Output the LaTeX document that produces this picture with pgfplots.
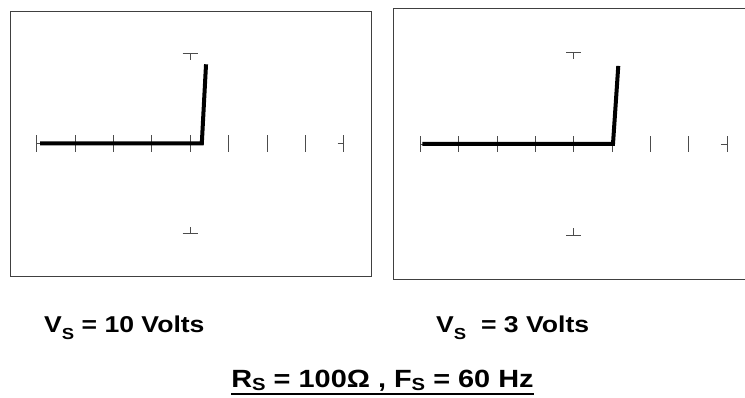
\documentclass[border=0pt]{standalone}
\usepackage{pgfplots}
\pgfplotsset{compat=1.18}
\usepackage{fontspec}
\setmainfont{Liberation Sans}
\newcommand\sub[1]{\raisebox{-0.27em}{\fontsize{16}{16}\selectfont #1}}
\newcommand\subb[1]{\raisebox{-3bp}{\fontsize{17.5}{17}\selectfont #1}}
\pgfplotsset{
  scope/.style={
    scale only axis, xtick=\empty, ytick=\empty,
    axis line style={black!75, line width=0.9bp},
    clip=false, unbounded coords=jump,
  },
  tk/.style={black!70, line width=0.9bp, no markers},
  tr/.style={black, line width=4bp, no markers, line join=miter},
}
\begin{document}
\begin{tikzpicture}
\useasboundingbox (0,0) rectangle (745bp,398bp);
\clip (0,0) rectangle (745bp,398bp);
% left screen
\begin{axis}[scope, at={(10bp,122bp)}, anchor=south west, width=361bp, height=265bp,
  xmin=-4.695, xmax=4.706, ymin=-1.467, ymax=1.467]
\addplot[tk] coordinates {
 (-4,-0.089) (-4,0.089) (nan,nan)
 (-3,-0.089) (-3,0.089) (nan,nan)
 (-2,-0.089) (-2,0.089) (nan,nan)
 (-1,-0.089) (-1,0.089) (nan,nan)
 (0,-0.089) (0,0.089) (nan,nan)
 (1,-0.089) (1,0.089) (nan,nan)
 (2,-0.089) (2,0.089) (nan,nan)
 (3,-0.089) (3,0.089) (nan,nan)
 (4,-0.089) (4,0.089) (nan,nan)
 (-4,0) (-3.84,0) (nan,nan)
 (3.84,0) (4,0) (nan,nan)
 (-0.2,1) (0.2,1) (nan,nan)
 (0,1) (0,0.92) (nan,nan)
 (-0.2,-1) (0.2,-1) (nan,nan)
 (0,-1) (0,-0.92)
};
\addplot[tr] coordinates {(-3.91,0) (0.30,0) (0.41,0.877)};
\end{axis}
% right screen
\begin{axis}[scope, at={(393bp,119bp)}, anchor=south west, width=361bp, height=271bp,
  xmin=-4.713, xmax=4.703, ymin=-1.471, ymax=1.481]
\addplot[tk] coordinates {
 (-4,-0.087) (-4,0.087) (nan,nan)
 (-3,-0.087) (-3,0.087) (nan,nan)
 (-2,-0.087) (-2,0.087) (nan,nan)
 (-1,-0.087) (-1,0.087) (nan,nan)
 (0,-0.087) (0,0.087) (nan,nan)
 (1,-0.087) (1,0.087) (nan,nan)
 (2,-0.087) (2,0.087) (nan,nan)
 (3,-0.087) (3,0.087) (nan,nan)
 (4,-0.087) (4,0.087) (nan,nan)
 (-4,0) (-3.84,0) (nan,nan)
 (3.84,0) (4,0) (nan,nan)
 (-0.2,1) (0.2,1) (nan,nan)
 (0,1) (0,0.92) (nan,nan)
 (-0.2,-1) (0.2,-1) (nan,nan)
 (0,-1) (0,-0.92)
};
\addplot[tr] coordinates {(-3.95,0) (1.025,0) (1.163,0.85)};
\end{axis}
% captions
\node[anchor=base west, inner sep=0pt, font=\fontsize{23}{26}\selectfont\bfseries] at (44bp,65bp) {\scalebox{1.16}[1]{V\sub{S} = 10 Volts}};
\node[anchor=base west, inner sep=0pt, font=\fontsize{23}{26}\selectfont\bfseries] at (436bp,65bp) {\scalebox{1.16}[1]{V\sub{S}\ \ = 3 Volts}};
\node[anchor=base, inner sep=0pt, font=\fontsize{25}{28}\selectfont\bfseries] (t) at (382.5bp,10.5bp) {\scalebox{1.16}[1]{R\subb{S} = 100Ω , F\subb{S} = 60 Hz}};
\draw[line width=2.5bp] (t.west |- 0,4bp) -- (t.east |- 0,4bp);
\end{tikzpicture}
\end{document}
